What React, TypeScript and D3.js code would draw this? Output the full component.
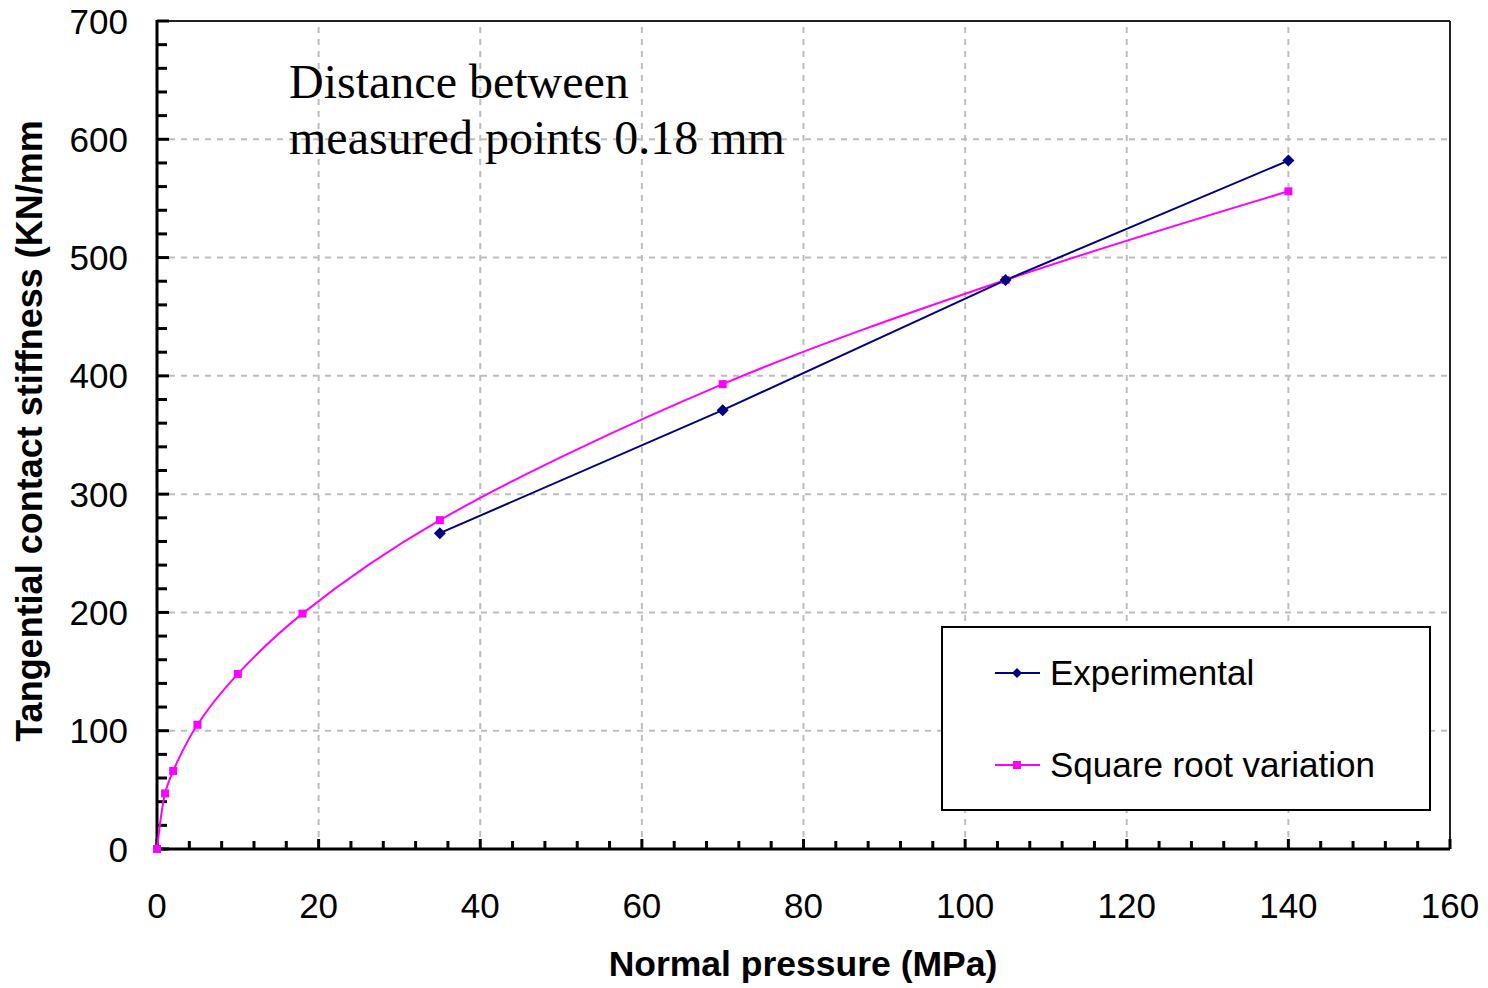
import React from "react";
import * as d3 from "d3";

const expPressure = [35, 70, 105, 140];
const expStiffness = [267, 371, 481, 582];

const sqrtPressure = [0, 1, 2, 5, 10, 18, 35, 70, 105, 140];
const sqrtStiffness = [0, 47, 66, 105, 148, 199, 278, 393, 481, 556];

const xTicks = [0, 20, 40, 60, 80, 100, 120, 140, 160];
const yTicks = [0, 100, 200, 300, 400, 500, 600, 700];

const legendLabels = ["Experimental", "Square root variation"];
const annotationLines = ["Distance between", "measured points 0.18 mm"];

const W = 1488;
const H = 988;

export default function App() {
  const x = d3.scaleLinear().domain([0, 160]).range([157, 1450]);
  const y = d3.scaleLinear().domain([0, 700]).range([849, 21]);

  const xMinor = d3.range(0, 161, 4);
  const yMinor = d3.range(0, 701, 20);

  const expData = expPressure.map((p, i) => [p, expStiffness[i]] as [number, number]);
  const sqrtData = sqrtPressure.map((p, i) => [p, sqrtStiffness[i]] as [number, number]);

  const lineExp = d3
    .line<[number, number]>()
    .x((d) => x(d[0]))
    .y((d) => y(d[1]));
  const lineSqrt = d3
    .line<[number, number]>()
    .x((d) => x(d[0]))
    .y((d) => y(d[1]))
    .curve(d3.curveCatmullRom.alpha(0.5));

  const sans = "Arial, 'Liberation Sans', sans-serif";
  const serif = "'Times New Roman', 'Liberation Serif', serif";

  const x0 = x(0);
  const x1 = x(160);
  const y0 = y(0);
  const y1 = y(700);

  const diamond = (cx: number, cy: number, r: number) =>
    `M${cx},${cy - r}L${cx + r},${cy}L${cx},${cy + r}L${cx - r},${cy}Z`;

  return (
    <svg
      width={W}
      height={H}
      style={{ position: "absolute", left: 0, top: 0, background: "#fff" }}
    >
      <rect x={0} y={0} width={W} height={H} fill="#fff" />
      {/* grid */}
      <g stroke="#bdbdbd" strokeWidth={2} strokeDasharray="6,6">
        {xTicks.slice(1, -1).map((t) => (
          <line key={"gx" + t} x1={x(t)} x2={x(t)} y1={y0} y2={y1} />
        ))}
        {yTicks.slice(1, -1).map((t) => (
          <line key={"gy" + t} x1={x0} x2={x1} y1={y(t)} y2={y(t)} />
        ))}
      </g>
      {/* frame */}
      <line x1={x0} x2={x1} y1={y1} y2={y1} stroke="#222" strokeWidth={2} />
      <line x1={x1} x2={x1} y1={y1} y2={y0} stroke="#222" strokeWidth={2} />
      {/* minor ticks */}
      <g stroke="#000" strokeWidth={3}>
        {xMinor.map((t) => (
          <line key={"tx" + t} x1={x(t)} x2={x(t)} y1={y0} y2={y0 - (t % 20 === 0 ? 10 : 8)} />
        ))}
        {yMinor.map((t) => (
          <line key={"ty" + t} x1={x0} x2={x0 + (t % 100 === 0 ? 12 : 10)} y1={y(t)} y2={y(t)} />
        ))}
      </g>
      {/* axes */}
      <line x1={x0} x2={x1} y1={y0} y2={y0} stroke="#000" strokeWidth={3} />
      <line x1={x0} x2={x0} y1={y1 - 1} y2={y0 + 1.5} stroke="#000" strokeWidth={3} />
      {/* tick labels */}
      <g fontFamily={sans} fontSize={35} fill="#000">
        {xTicks.map((t) => (
          <text key={"lx" + t} x={x(t)} y={918} textAnchor="middle">
            {t}
          </text>
        ))}
        {yTicks.map((t) => (
          <text key={"ly" + t} x={128} y={y(t) + 12.5} textAnchor="end">
            {t}
          </text>
        ))}
      </g>
      {/* axis titles */}
      <text
        x={803}
        y={976}
        textAnchor="middle"
        fontFamily={sans}
        fontWeight="bold"
        fontSize={35.5}
        fill="#000"
      >
        Normal pressure (MPa)
      </text>
      <text
        transform={`translate(42,431) rotate(-90)`}
        textAnchor="middle"
        fontFamily={sans}
        fontWeight="bold"
        fontSize={36}
        fill="#000"
      >
        Tangential contact stiffness (KN/mm
      </text>
      {/* annotation */}
      <g fontFamily={serif} fontSize={48} fill="#000">
        {annotationLines.map((s, i) => (
          <text key={s} x={289} y={98 + i * 56}>
            {s}
          </text>
        ))}
      </g>
      {/* series */}
      <path d={lineSqrt(sqrtData) || ""} fill="none" stroke="#ff00ff" strokeWidth={2} />
      <path d={lineExp(expData) || ""} fill="none" stroke="#000080" strokeWidth={2} />
      {sqrtData.map((d, i) => (
        <rect key={"ps" + i} x={x(d[0]) - 4} y={y(d[1]) - 4} width={8} height={8} fill="#ff00ff" />
      ))}
      {expData.map((d, i) => (
        <path key={"pe" + i} d={diamond(x(d[0]), y(d[1]), 6)} fill="#000080" />
      ))}
      {/* legend */}
      <rect x={942} y={627} width={488} height={183} fill="#fff" stroke="#000" strokeWidth={2} />
      <line x1={995} x2={1040} y1={673} y2={673} stroke="#000080" strokeWidth={2} />
      <path d={diamond(1017, 673, 5)} fill="#000080" />
      <line x1={995} x2={1040} y1={765} y2={765} stroke="#ff00ff" strokeWidth={2} />
      <rect x={1013} y={761} width={8} height={8} fill="#ff00ff" />
      <g fontFamily={sans} fontSize={35} fill="#000">
        <text x={1050} y={685}>
          {legendLabels[0]}
        </text>
        <text x={1050} y={777}>
          {legendLabels[1]}
        </text>
      </g>
    </svg>
  );
}
